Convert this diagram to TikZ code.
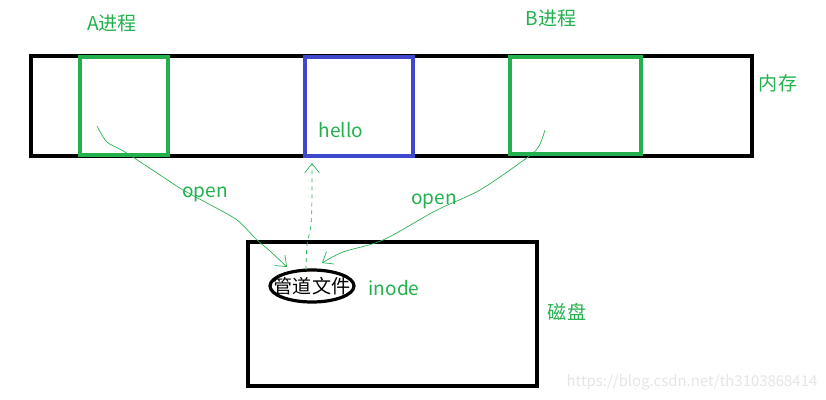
\documentclass[tikz,border=0pt]{standalone}
\usepackage{fontspec}
\setmainfont{Noto Sans CJK SC}
\usetikzlibrary{arrows.meta,shapes.geometric}
\definecolor{pgreen}{HTML}{22B14C}
\definecolor{pblue}{HTML}{3F48CC}
\tikzset{
  box/.style={draw, line width=2.6pt},
  gbox/.style={draw=pgreen, line width=2.4pt},
  glabel/.style={text=pgreen, font=\fontsize{14.3}{16}\selectfont, inner sep=0pt},
  conn/.style={draw=pgreen, line width=0.5pt, -{Straight Barb[length=7pt,width=11pt,line width=0.5pt]}},
}
\begin{document}
\begin{tikzpicture}[x=0.75pt,y=-0.75pt]
\useasboundingbox (0,0) rectangle (826,400);
% memory
\draw[box] (31,56) rectangle (752,156);
\draw[gbox] (80,57) rectangle (168,155);
\draw[draw=pblue, line width=2.4pt] (305,57) rectangle (413,156);
\draw[gbox] (510,57) rectangle (641,154);
% disk
\draw[box] (248,242) rectangle (537,386);
\node[draw, line width=2.4pt, ellipse, minimum width=63pt, minimum height=24pt, inner sep=0pt] (pipe) at (312,286) {};
\node[font=\fontsize{14.3}{16}\selectfont, inner sep=0pt] (pipetext) at (pipe.center) {管道文件};
% labels
\node[glabel] (lA) at (112,23) {A进程};
\node[glabel] (lB) at (551,18) {B进程};
\node[glabel] (lmem) at (778,83) {内存};
\node[glabel] (lhello) at (341,130) {hello};
\node[glabel] (ldisk) at (567,312) {磁盘};
\node[glabel] (linode) at (394,288) {inode};
\node[glabel] (lopen1) at (205,194) {open};
\node[glabel] (lopen2) at (434,201) {open};
\node[text=black!10, font=\fontsize{11.2}{13}\selectfont, inner sep=0pt] (wm) at (692,382) {https://blog.csdn.net/th3103868414};
% connectors
\coordinate (sA) at (97,126);
\coordinate (sB) at (545,130);
\coordinate (tH) at (312,163);
\coordinate (eA) at (287,267);
\coordinate (eB) at (322,263);
\draw[conn] plot[smooth, tension=0.5] coordinates {(sA) (107,142) (125,152) (163,177) (183,190) (207,203) (237,220) (257,240) (270,251) (eA)};
\draw[conn] plot[smooth, tension=0.5] coordinates {(sB) (539,146) (528,157) (480,190) (437,210) (383,240) (343,252) (eB)};
\draw[conn, dashed] plot[smooth, tension=0.5] coordinates {(306,270) (307,245) (311,225) (312,195) (tH)};
\end{tikzpicture}
\end{document}
